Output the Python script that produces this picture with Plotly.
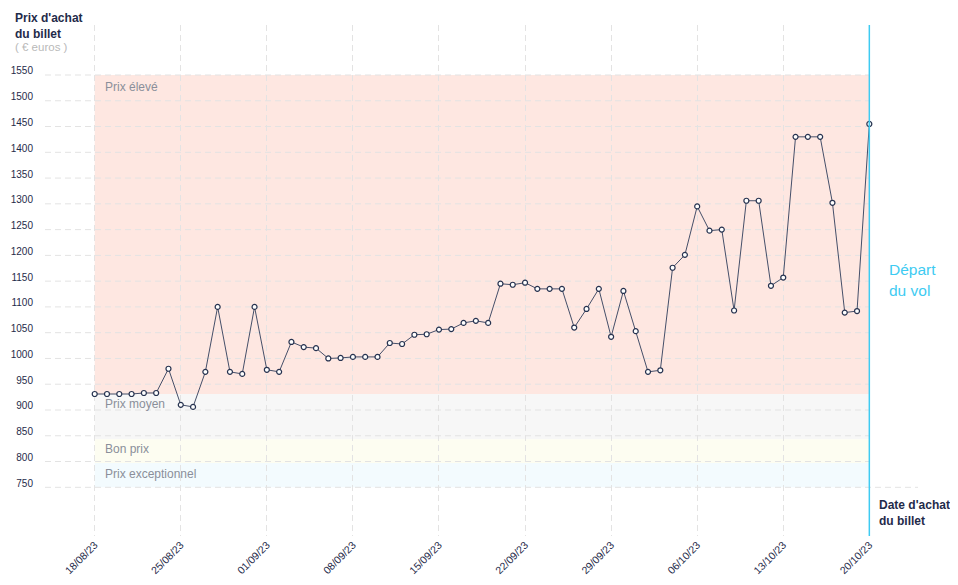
import pandas as pd
import plotly.graph_objects as go

# ---------------- data ----------------
start_date = "2023-08-18"
prices = [931, 931, 931, 931, 933, 933, 980, 910, 906, 974,
          1100, 974, 970, 1100, 978, 974, 1032, 1022, 1020, 1000,
          1001, 1003, 1003, 1003, 1030, 1028, 1046, 1047, 1056, 1057,
          1069, 1073, 1069, 1145, 1143, 1147, 1135, 1135, 1135, 1060,
          1096, 1135, 1042, 1131, 1053, 974, 977, 1176, 1201, 1295,
          1248, 1250, 1093, 1306, 1306, 1141, 1157, 1430, 1430, 1430,
          1302, 1089, 1092, 1455]
dates = pd.date_range(start_date, periods=len(prices), freq="D")

departure_date = "2023-10-20"
y_ticks = [750, 800, 850, 900, 950, 1000, 1050, 1100, 1150, 1200,
           1250, 1300, 1350, 1400, 1450, 1500, 1550]

band_names = ["Prix élevé", "Prix moyen", "Bon prix", "Prix exceptionnel"]
band_low = [931, 843, 797, 750]
band_high = [1550, 931, 843, 797]
band_colors = ["#fee7e1", "#f7f7f7", "#fdfdf1", "#f3fbfe"]

# ---------------- layout geometry ----------------
OFF = 8  # page body margin
W, H = 958 - OFF, 585 - OFF
PL, PR, PT, PB = 45 - OFF, 918 - OFF, 25 - OFF, 536 - OFF
PW, PH = PR - PL, PB - PT


def px_x(p):
    return (p - OFF - PL) / PW


def px_y(p):
    return (PB - (p - OFF)) / PH


FONT = "Liberation Sans, Arial, sans-serif"
NAVY = "#1f2b4a"
GRID = "#e3e3e3"
CYAN = "#3ecbf2"

x_range = ["2023-08-13 23:00", "2023-10-23 23:00"]
y_range = [655.5, 1647]

fig = go.Figure()

fig.add_trace(go.Scatter(
    x=dates, y=prices, mode="lines+markers",
    line=dict(color="#454f69", width=1),
    marker=dict(symbol="circle", size=5, color="white",
                line=dict(color="#26324f", width=1.2)),
    cliponaxis=False, hoverinfo="x+y", showlegend=False,
))

shapes = []
# colored bands
for lo, hi, col in zip(band_low, band_high, band_colors):
    shapes.append(dict(type="rect", xref="x", yref="y",
                       x0=start_date, x1=departure_date, y0=lo, y1=hi,
                       fillcolor=col, line=dict(width=0), layer="below"))
# horizontal dashed gridlines
for v in y_ticks:
    x1 = x_range[1] if v == y_ticks[0] else departure_date
    shapes.append(dict(type="line", xref="x", yref="y",
                       x0=x_range[0], x1=x1, y0=v, y1=v,
                       line=dict(color=GRID, width=1, dash="6px,4px"),
                       layer="below"))
# departure line
shapes.append(dict(type="line", xref="x", yref="paper",
                   x0=departure_date, x1=departure_date, y0=0, y1=1,
                   line=dict(color=CYAN, width=1.5), layer="above"))

annotations = []


def add_text(text, xp, yp, size, color, bold=False, xanchor="left"):
    annotations.append(dict(
        text=f"<b>{text}</b>" if bold else text,
        xref="paper", yref="paper", x=px_x(xp), y=px_y(yp),
        xanchor=xanchor, yanchor="middle", showarrow=False, borderpad=0,
        font=dict(family=FONT, size=size, color=color)))


add_text("Prix d'achat", 14, 18.5, 12, NAVY, bold=True)
add_text("du billet", 14, 34, 12, NAVY, bold=True)
add_text("( € euros )", 14, 47, 11.5, "#b9b9b9")
add_text("Date d'achat", 878, 505, 12, NAVY, bold=True)
add_text("du billet", 878, 520.5, 12, NAVY, bold=True)
add_text("Départ", 888, 269.5, 15.5, CYAN)
add_text("du vol", 888, 290, 15.5, CYAN)

# band labels
band_label_offsets = [-12, -9.5, -10, -10.5]
for name, hi, off in zip(band_names, band_high, band_label_offsets):
    annotations.append(dict(
        text=name, xref="x", yref="y", x=start_date, y=hi,
        xanchor="left", yanchor="middle", xshift=9, yshift=off,
        showarrow=False, borderpad=0,
        font=dict(family=FONT, size=12, color="#8a8f9a")))

fig.update_layout(
    width=W, height=H,
    margin=dict(l=PL, r=W - PR, t=PT, b=H - PB, pad=0, autoexpand=False),
    paper_bgcolor="white", plot_bgcolor="white",
    font=dict(family=FONT, size=10, color=NAVY),
    shapes=shapes, annotations=annotations, showlegend=False,
    xaxis=dict(type="date", range=x_range, tick0=start_date,
               dtick=7 * 86400000, tickformat="%d/%m/%y", tickangle=-45,
               showgrid=True, gridcolor=GRID, gridwidth=1,
               griddash="6px,4px", zeroline=False, showline=False,
               automargin=False,
               ticks="", tickfont=dict(family=FONT, size=10.5, color=NAVY)),
    yaxis=dict(range=y_range, tickvals=y_ticks, showgrid=False,
               zeroline=False, showline=False, ticks="", automargin=False,
               ticklabelshift=-4, ticklabelstandoff=11,
               tickfont=dict(family=FONT, size=10, color=NAVY)),
)

fig.write_html("out.html")
